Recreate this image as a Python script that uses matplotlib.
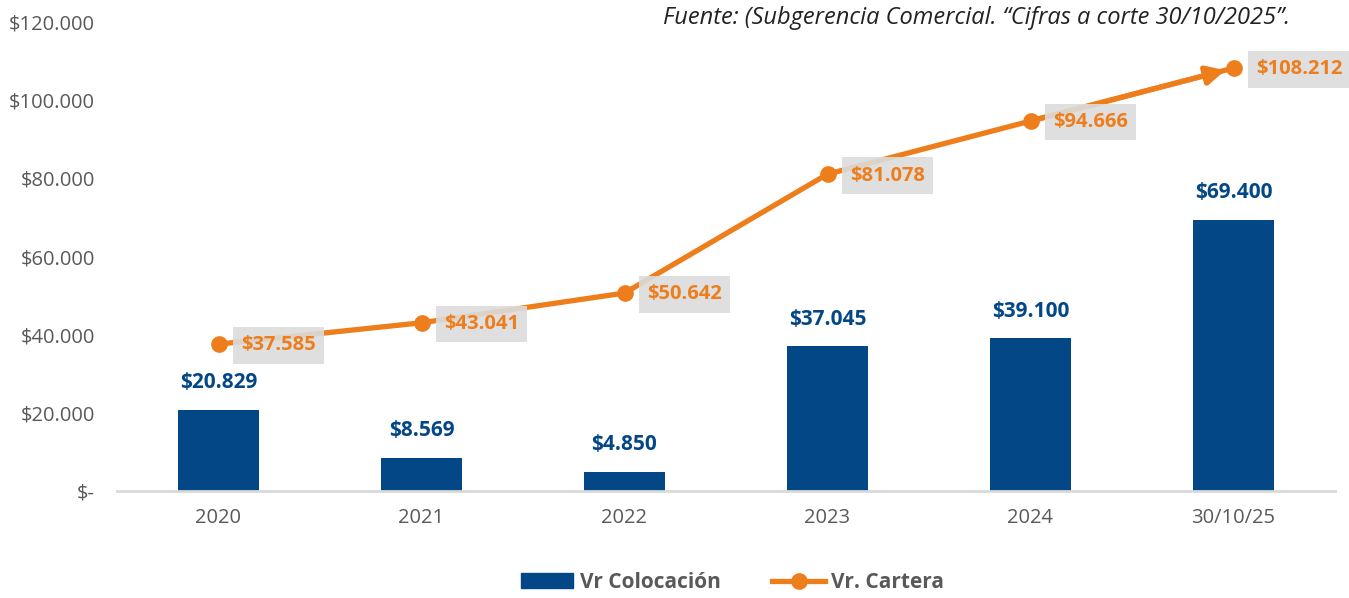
import matplotlib.pyplot as plt
from matplotlib.lines import Line2D
from matplotlib.patches import Patch

BLUE = "#034786"
ORANGE = "#EE7D1B"
INK = "#595959"
BOXGRAY = "#DCDCDC"

CATS = ["2020", "2021", "2022", "2023", "2024", "30/10/25"]
COLOCACION = [20829, 8569, 4850, 37045, 39100, 69400]
CARTERA = [37585, 43041, 50642, 81078, 94666, 108212]
YTICKS = [0, 20000, 40000, 60000, 80000, 100000, 120000]


def money(v):
    return "$" + f"{v:,.0f}".replace(",", ".")


def main():
    plt.rcParams["font.family"] = ["Open Sans", "DejaVu Sans"]
    fig = plt.figure(figsize=(13.49, 5.98), dpi=100)
    ax = fig.add_axes([117 / 1349, 1 - 491 / 598, (1335 - 117) / 1349, 469 / 598])

    xs = list(range(len(CATS)))
    ax.bar(xs, COLOCACION, width=0.4, color=BLUE, zorder=2)
    for x, v in zip(xs, COLOCACION):
        ax.annotate(money(v), (x, v), xytext=(0, 12), textcoords="offset points",
                    ha="center", va="bottom", fontsize=15, fontweight="bold",
                    color=BLUE)

    ax.plot(xs, CARTERA, color=ORANGE, lw=3.8, marker="o", ms=11, zorder=3)
    ax.annotate("", xy=(xs[-1], CARTERA[-1]), xytext=(xs[-2], CARTERA[-2]),
                arrowprops=dict(arrowstyle="-|>", color=ORANGE, lw=3.8,
                                mutation_scale=28, shrinkA=0, shrinkB=6),
                zorder=3)
    for x, v in zip(xs, CARTERA):
        ax.annotate(money(v), (x, v), xytext=(16, -1), textcoords="offset points",
                    ha="left", va="center", fontsize=14.5, fontweight="bold",
                    color=ORANGE, zorder=4,
                    bbox=dict(boxstyle="square,pad=0.4", fc=BOXGRAY, ec="none",
                              alpha=0.9))

    ax.set_xlim(-0.5, len(CATS) - 0.5)
    ax.set_ylim(0, 120000)
    ax.set_xticks(xs, CATS)
    ax.set_yticks(YTICKS, ["$-"] + [money(v) for v in YTICKS[1:]])
    ax.tick_params(length=0, labelsize=14.5, colors=INK)
    ax.tick_params(axis="y", pad=16)
    ax.tick_params(axis="x", pad=12)
    for s in ("top", "right", "left"):
        ax.spines[s].set_visible(False)
    ax.spines["bottom"].set_color("#D9D9D9")
    ax.spines["bottom"].set_linewidth(2)

    fig.text(1290 / 1349, 1 - 18 / 598,
             "Fuente: (Subgerencia Comercial. \u201cCifras a corte 30/10/2025\u201d.",
             ha="right", va="center", fontsize=17, style="italic", color="#222222")

    handles = [Patch(color=BLUE, label="Vr Colocación"),
               Line2D([], [], color=ORANGE, lw=3.8, marker="o", ms=11,
                      label="Vr. Cartera")]
    leg = fig.legend(handles=handles, loc="center", bbox_to_anchor=(0.543, 0.026),
                     ncol=2, frameon=False, fontsize=15, handlelength=2.5,
                     columnspacing=2.5, handletextpad=0.3)
    for t in leg.get_texts():
        t.set_color(INK)
        t.set_fontweight("bold")

    fig.savefig("out.png", dpi=100)


if __name__ == "__main__":
    main()
